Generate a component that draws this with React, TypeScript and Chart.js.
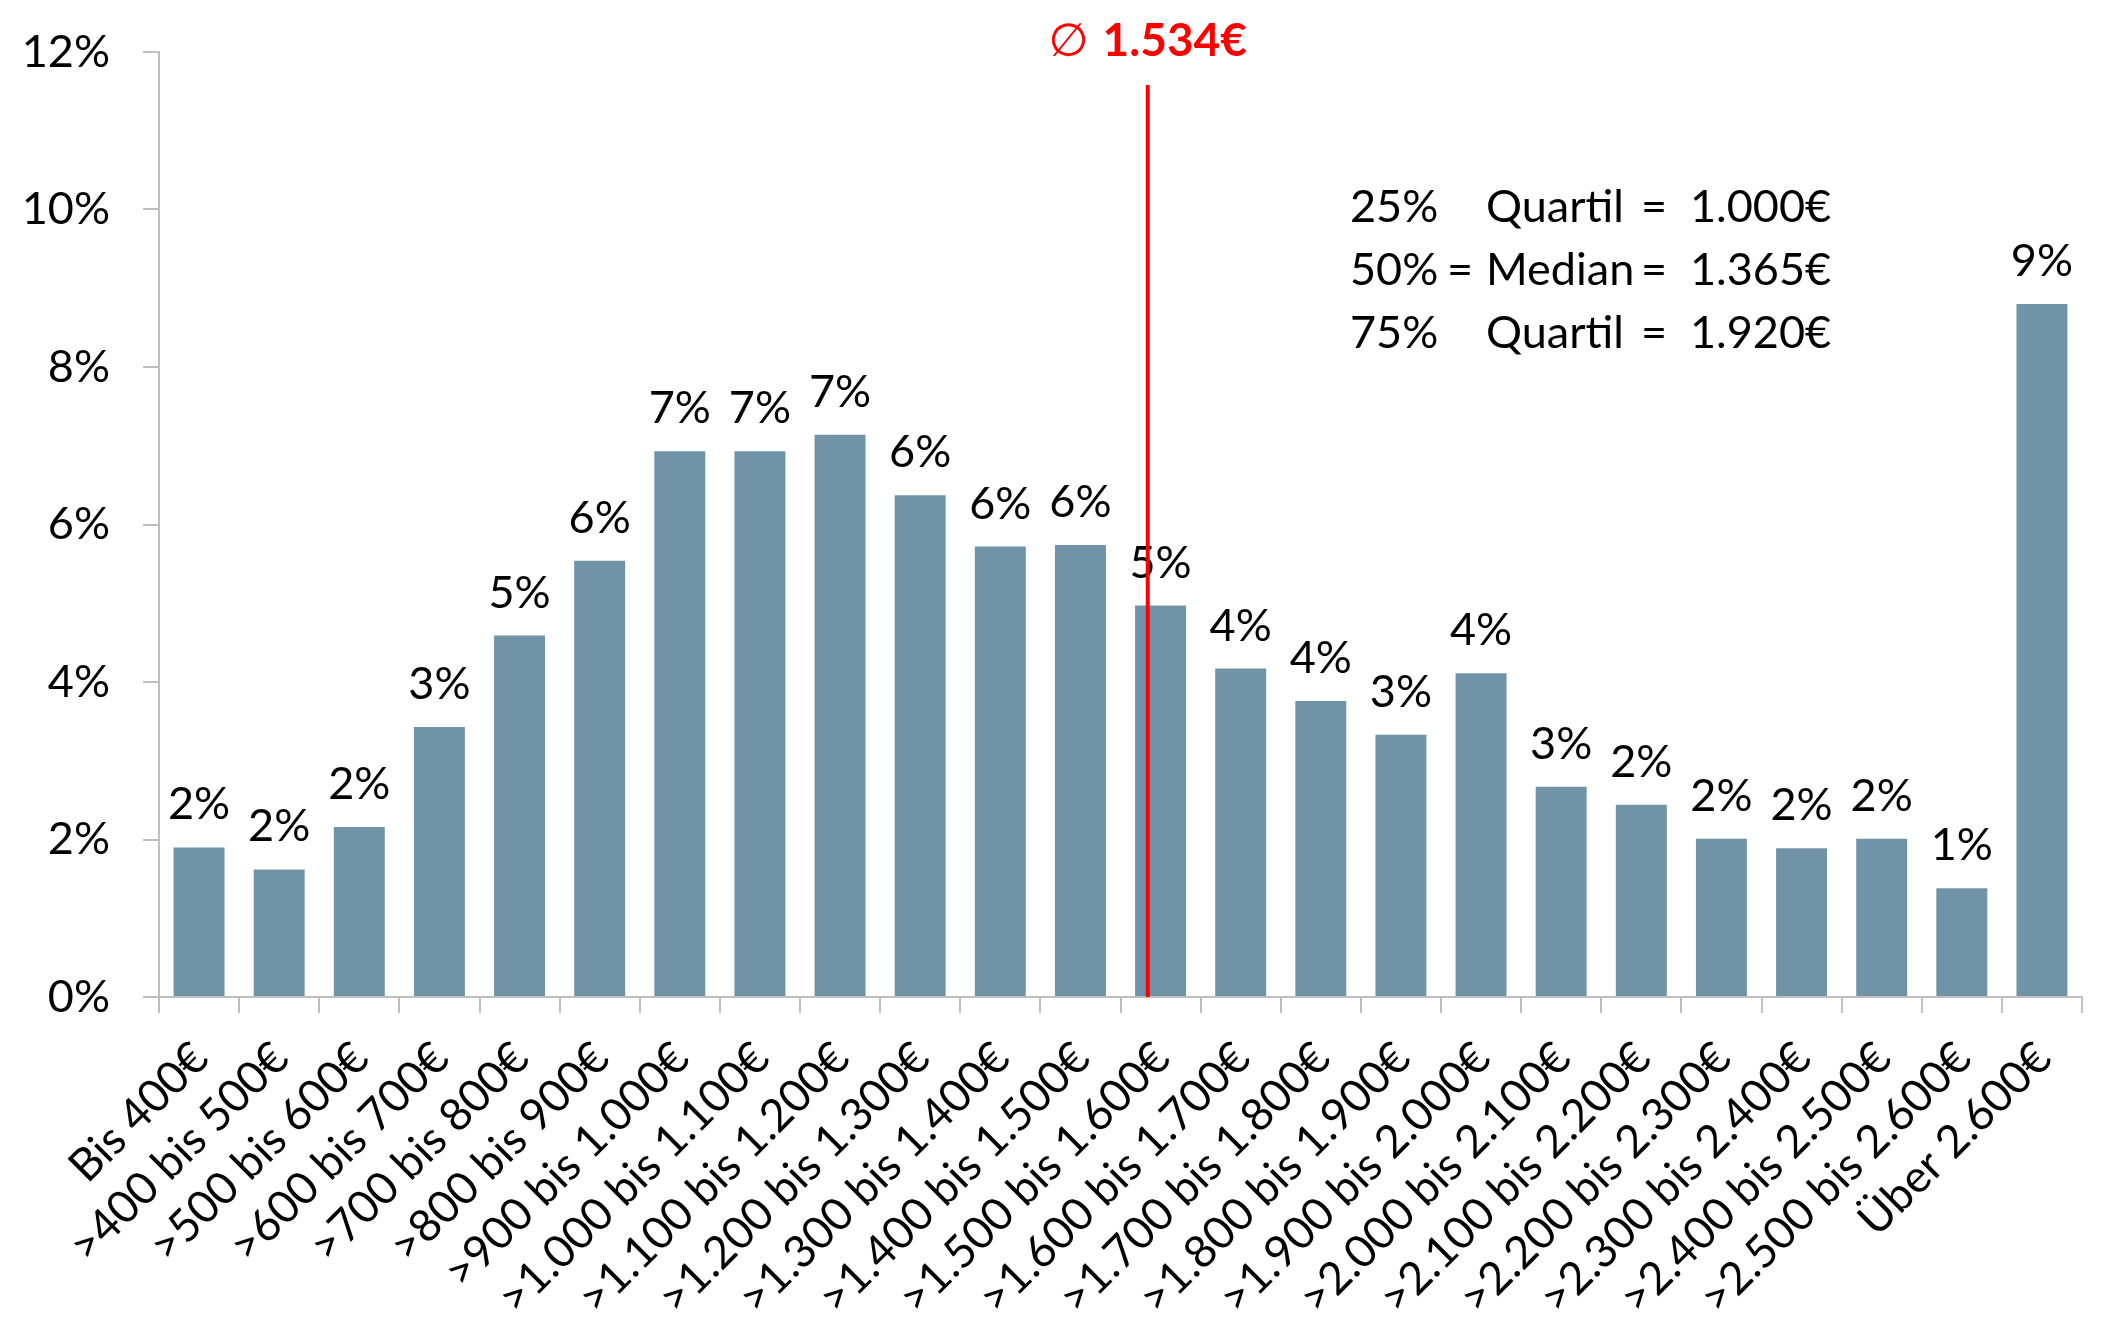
import React, { useEffect, useRef } from "react";
import { Chart, registerables } from "chart.js";

Chart.register(...registerables);

// Net income brackets (x axis)
const categories = [
  "Bis 400€",
  ">400 bis 500€",
  ">500 bis 600€",
  ">600 bis 700€",
  ">700 bis 800€",
  ">800 bis 900€",
  ">900 bis 1.000€",
  ">1.000 bis 1.100€",
  ">1.100 bis 1.200€",
  ">1.200 bis 1.300€",
  ">1.300 bis 1.400€",
  ">1.400 bis 1.500€",
  ">1.500 bis 1.600€",
  ">1.600 bis 1.700€",
  ">1.700 bis 1.800€",
  ">1.800 bis 1.900€",
  ">1.900 bis 2.000€",
  ">2.000 bis 2.100€",
  ">2.100 bis 2.200€",
  ">2.200 bis 2.300€",
  ">2.300 bis 2.400€",
  ">2.400 bis 2.500€",
  ">2.500 bis 2.600€",
  "Über 2.600€",
];

// Share of respondents per bracket, in percent
const shares = [
  1.9, 1.62, 2.16, 3.43, 4.59, 5.54, 6.93, 6.93, 7.14, 6.37, 5.72, 5.74,
  4.97, 4.17, 3.76, 3.33, 4.11, 2.67, 2.44, 2.01, 1.89, 2.01, 1.38, 8.8,
];

// Y axis range and step (percent)
const yMin = 0;
const yMax = 12;
const yStep = 2;

// Mean income marker
const meanIncome = 1534;
const meanLabel = "1.534€";
const meanSymbol = "∅";

// Quantile summary
const quantilePcts = ["25%", "50%", "75%"];
const quantileTerms = ["Quartil", "Median", "Quartil"];
const quantileValues = ["1.000€", "1.365€", "1.920€"];

const FONT = "Lato";
const FONT_SIZE = 45;
const BAR_COLOR = "#7093A7";
const AXIS_COLOR = "#BFBFBF";

// Bracket i (i >= 1) spans 300+100i .. 400+100i, so an amount maps to a
// fractional category index on the x scale.
const incomeToIndex = (eur: number) => (eur - 400) / 100 + 0.5;

// Category names, rotated 45° and ending just right of each tick
const xTickLabels = {
  id: "xTickLabels",
  afterDraw(chart: any) {
    const xs = chart.scales.x;
    const ctx = chart.ctx;
    const labels: string[] = chart.data.labels;
    ctx.save();
    ctx.font = `${FONT_SIZE}px ${FONT}`;
    ctx.fillStyle = "#000";
    ctx.textAlign = "right";
    ctx.textBaseline = "alphabetic";
    labels.forEach((label, i) => {
      const x = xs.getPixelForTick(i) + 12;
      const y = xs.top + 64;
      ctx.save();
      ctx.translate(x, y);
      ctx.rotate(-Math.PI / 4);
      ctx.fillText(label, 0, 0);
      ctx.restore();
    });
    ctx.restore();
  },
};

const barValueLabels = {
  id: "barValueLabels",
  afterDatasetsDraw(chart: any) {
    const ctx = chart.ctx;
    const meta = chart.getDatasetMeta(0);
    ctx.save();
    ctx.font = `${FONT_SIZE}px ${FONT}`;
    ctx.fillStyle = "#000";
    ctx.textAlign = "center";
    ctx.textBaseline = "alphabetic";
    meta.data.forEach((bar: any, i: number) => {
      ctx.fillText(`${Math.round(shares[i])}%`, bar.x, bar.y - 28);
    });
    ctx.restore();
  },
};

const meanMarker = {
  id: "meanMarker",
  afterDraw(chart: any) {
    const ctx = chart.ctx;
    const xs = chart.scales.x;
    const area = chart.chartArea;
    const x = xs.getPixelForValue(incomeToIndex(meanIncome));
    ctx.save();
    ctx.strokeStyle = "#FF0000";
    ctx.lineWidth = 4;
    ctx.beginPath();
    ctx.moveTo(x, area.top + 33);
    ctx.lineTo(x, area.bottom);
    ctx.stroke();

    // "∅ 1.534€" centred over the line
    const symFont = `46px "DejaVu Sans", ${FONT}`;
    const valFont = `bold 46px ${FONT}`;
    ctx.font = symFont;
    const symW = ctx.measureText(meanSymbol).width;
    ctx.font = valFont;
    const valW = ctx.measureText(meanLabel).width;
    const gap = 14;
    const total = symW + gap + valW;
    const left = x - total / 2;
    const baseline = area.top + 4;
    ctx.fillStyle = "#FF0000";
    ctx.textAlign = "left";
    ctx.textBaseline = "alphabetic";
    ctx.font = symFont;
    ctx.fillText(meanSymbol, left, baseline);
    ctx.font = valFont;
    ctx.fillText(meanLabel, left + symW + gap, baseline);
    ctx.restore();
  },
};

const quantileBox = {
  id: "quantileBox",
  afterDraw(chart: any) {
    const ctx = chart.ctx;
    const area = chart.chartArea;
    const left = area.right - 732;
    const firstBaseline = area.top + 170;
    const lineGap = 63;
    ctx.save();
    ctx.font = `${FONT_SIZE}px ${FONT}`;
    ctx.fillStyle = "#000";
    ctx.textBaseline = "alphabetic";
    quantilePcts.forEach((pct, i) => {
      const y = firstBaseline + i * lineGap;
      ctx.textAlign = "left";
      ctx.fillText(pct, left, y);
      ctx.fillText(quantileTerms[i], left + 136, y);
      ctx.fillText(quantileValues[i], left + 340, y);
      ctx.textAlign = "center";
      ctx.fillText("=", left + 304, y);
      if (quantileTerms[i] === "Median") ctx.fillText("=", left + 110, y);
    });
    ctx.restore();
  },
};

export default function App() {
  const canvasRef = useRef<HTMLCanvasElement | null>(null);

  useEffect(() => {
    if (!canvasRef.current) return;
    const chart = new Chart(canvasRef.current, {
      type: "bar",
      data: {
        labels: categories,
        datasets: [
          {
            data: shares,
            backgroundColor: BAR_COLOR,
            borderWidth: 0,
            categoryPercentage: 1,
            barPercentage: 0.636,
          },
        ],
      },
      options: {
        animation: false,
        responsive: true,
        maintainAspectRatio: false,
        layout: { padding: { top: 52, right: 25, bottom: 0, left: 0 } },
        plugins: {
          legend: { display: false },
          tooltip: { enabled: false },
          title: { display: false },
        },
        scales: {
          x: {
            grid: {
              display: true,
              drawOnChartArea: false,
              drawTicks: true,
              tickLength: 16,
              color: AXIS_COLOR,
              lineWidth: 2,
              offset: true,
            },
            border: { display: true, color: AXIS_COLOR, width: 2 },
            ticks: {
              display: false,
              autoSkip: false,
            },
            afterFit: (scale: any) => {
              scale.height = 345;
              scale.paddingLeft = 0;
              scale.paddingRight = 0;
            },
          },
          y: {
            min: yMin,
            max: yMax,
            grid: {
              display: true,
              drawOnChartArea: false,
              drawTicks: true,
              tickLength: 16,
              color: AXIS_COLOR,
              lineWidth: 2,
            },
            border: { display: true, color: AXIS_COLOR, width: 2 },
            ticks: {
              stepSize: yStep,
              padding: 33,
              color: "#000",
              font: { family: FONT, size: FONT_SIZE },
              callback: (v: any) => `${v}%`,
            },
            afterFit: (scale: any) => {
              scale.width = 159;
              // keep the large label gap from reserving extra room above the plot
              scale.paddingTop = 24;
              scale.paddingBottom = 24;
            },
          },
        },
      },
      plugins: [barValueLabels, xTickLabels, meanMarker, quantileBox],
    });
    return () => chart.destroy();
  }, []);

  return (
    <div
      style={{
        position: "fixed",
        left: 0,
        top: 0,
        width: 2107,
        height: 1342,
        background: "#fff",
      }}
    >
      <canvas ref={canvasRef} />
    </div>
  );
}
